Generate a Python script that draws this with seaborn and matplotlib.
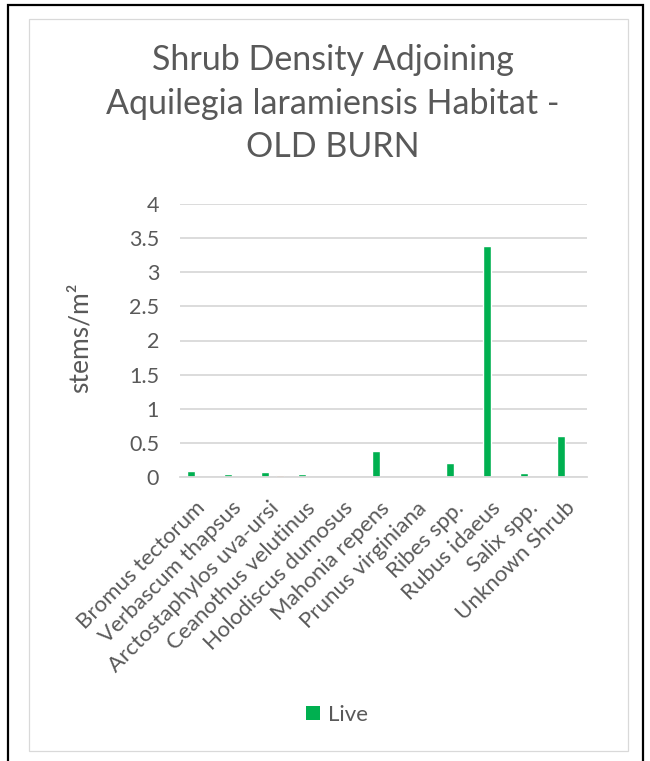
import matplotlib
matplotlib.use("Agg")
import matplotlib.pyplot as plt
from matplotlib.patches import Patch, Rectangle
from matplotlib.transforms import ScaledTranslation
import seaborn as sns
import pandas as pd

# Shrub stem density by species (stems per square metre)
species = [
    "Bromus tectorum",
    "Verbascum thapsus",
    "Arctostaphylos uva-ursi",
    "Ceanothus velutinus",
    "Holodiscus dumosus",
    "Mahonia repens",
    "Prunus virginiana",
    "Ribes spp.",
    "Rubus idaeus",
    "Salix spp.",
    "Unknown Shrub",
]
live = [0.09, 0.045, 0.07, 0.045, 0.0, 0.38, 0.0, 0.20, 3.39, 0.06, 0.60]
dead = [0.0, 0.0, 0.03, 0.0, 0.0, 0.0, 0.0, 0.0, 0.0, 0.0, 0.0]

title_lines = ["Shrub Density Adjoining", "Aquilegia laramiensis Habitat -", "OLD BURN"]
y_ticks = [0, 0.5, 1, 1.5, 2, 2.5, 3, 3.5, 4]

GREEN = "#00B050"
ORANGE = "#ED7D31"
TEXT = "#595959"
GRID = "#D9D9D9"

df = pd.DataFrame({
    "species": species * 2,
    "status": ["Live"] * len(species) + ["Dead"] * len(species),
    "density": live + dead,
})

sns.set_theme(style="white")
plt.rcParams["font.family"] = ["Lato", "DejaVu Sans"]

W, H = 650, 761
fig = plt.figure(figsize=(W / 100, H / 100), dpi=100)

# outer frame and chart-area border
fig.patches.append(Rectangle((8 / W, -0.01), (643 - 8) / W, 1 - 5 / H + 0.01,
                             transform=fig.transFigure, fill=False,
                             edgecolor="black", linewidth=1.6))
fig.patches.append(Rectangle((29 / W, 1 - 751 / H), (628 - 29) / W, (751 - 19) / H,
                             transform=fig.transFigure, fill=False,
                             edgecolor=GRID, linewidth=0.9))

ax = fig.add_axes([180 / W, 1 - 477 / H, (587 - 180) / W, (477 - 204) / H])
sns.barplot(data=df, x="species", y="density", hue="status",
            hue_order=["Live", "Dead"], palette={"Live": GREEN, "Dead": ORANGE},
            width=0.8, gap=0.5, order=species, ax=ax, legend=False,
            errorbar=None, saturation=1)

ax.set_ylim(0, 4)
ax.set_yticks(y_ticks)
ax.set_yticklabels([f"{t:g}" for t in y_ticks])
ax.yaxis.grid(True, color=GRID, linewidth=1.3)
ax.set_axisbelow(True)
for side in ["left", "right", "top"]:
    ax.spines[side].set_visible(False)
ax.spines["bottom"].set_color(GRID)
ax.spines["bottom"].set_linewidth(1.3)
ax.spines["bottom"].set_zorder(3)

ax.tick_params(axis="y", length=0, pad=15, labelsize=15.5, labelcolor=TEXT)
ax.tick_params(axis="x", length=0, pad=15, labelsize=16, labelcolor=TEXT)
shift = ScaledTranslation(-4 / 100, 0, fig.dpi_scale_trans)
for lbl in ax.get_xticklabels():
    lbl.set_rotation(45)
    lbl.set_ha("right")
    lbl.set_va("top")
    lbl.set_rotation_mode("anchor")
    lbl.set_transform(lbl.get_transform() + shift)
ax.set_xlabel("")
ax.set_ylabel("")

fig.text(80 / W, 1 - 338 / H, "stems/m\u00b2", rotation=90, ha="center", va="center",
         fontsize=19, color=TEXT)

for i, line in enumerate(title_lines):
    fig.text(333 / W, 1 - (60 + 43.5 * i) / H, line, ha="center", va="center",
             fontsize=24.5, color=TEXT)

fig.legend(handles=[Patch(facecolor=GREEN, edgecolor="none", label="Live")],
           loc="center", bbox_to_anchor=(337 / W, 1 - 715 / H), frameon=False,
           fontsize=16, labelcolor=TEXT, handlelength=0.6, handleheight=0.6,
           handletextpad=0.35)

fig.savefig("out.png", dpi=100)
